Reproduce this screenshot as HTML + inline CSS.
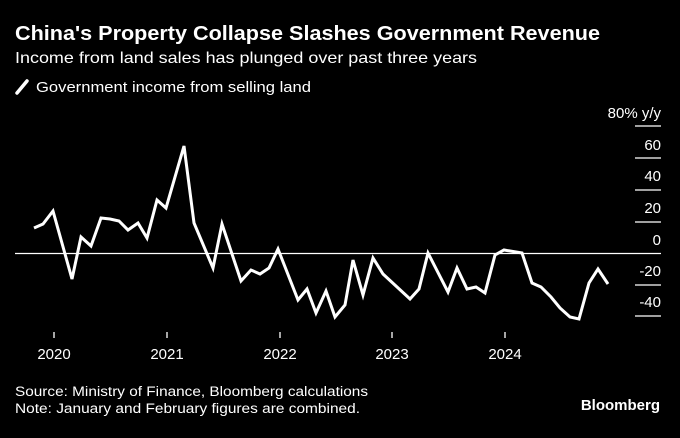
<!DOCTYPE html>
<html><head><meta charset="utf-8"><style>
body{margin:0;background:#000;width:680px;height:438px;overflow:hidden;font-family:"Liberation Sans",sans-serif;color:#fff}
</style></head><body>
<svg width="680" height="438" xmlns="http://www.w3.org/2000/svg" style="position:absolute;left:0;top:0">
<rect width="680" height="438" fill="#000"/>
<text x="15" y="40" font-size="20" font-weight="bold" fill="#fff" font-family="Liberation Sans" textLength="585" lengthAdjust="spacingAndGlyphs">China's Property Collapse Slashes Government Revenue</text>
<text x="15" y="63" font-size="16" fill="#fff" font-family="Liberation Sans" textLength="462" lengthAdjust="spacingAndGlyphs">Income from land sales has plunged over past three years</text>
<line x1="17" y1="93" x2="27" y2="81" stroke="#fff" stroke-width="3.5" stroke-linecap="round"/>
<text x="36" y="92" font-size="15" fill="#fff" font-family="Liberation Sans" textLength="275" lengthAdjust="spacingAndGlyphs">Government income from selling land</text>
<g stroke="#fff" stroke-width="1.3">
<line x1="635" y1="126" x2="661" y2="126"/><line x1="635" y1="158" x2="661" y2="158"/>
<line x1="635" y1="190" x2="661" y2="190"/><line x1="635" y1="222" x2="661" y2="222"/>
<line x1="15" y1="253.5" x2="661" y2="253.5"/>
<line x1="635" y1="285" x2="661" y2="285"/><line x1="635" y1="316" x2="661" y2="316"/>
<line x1="54" y1="332" x2="54" y2="338"/><line x1="167" y1="332" x2="167" y2="338"/>
<line x1="280" y1="332" x2="280" y2="338"/><line x1="392" y1="332" x2="392" y2="338"/>
<line x1="505" y1="332" x2="505" y2="338"/>
</g>
<g font-size="15" fill="#fff" text-anchor="end" font-family="Liberation Sans">
<text x="661" y="118">80% y/y</text><text x="661" y="150">60</text><text x="661" y="181">40</text>
<text x="661" y="213">20</text><text x="661" y="245">0</text><text x="661" y="276">-20</text><text x="661" y="307">-40</text>
</g>
<g font-size="15" fill="#fff" text-anchor="middle" font-family="Liberation Sans">
<text x="54" y="359">2020</text><text x="167" y="359">2021</text><text x="280" y="359">2022</text>
<text x="392" y="359">2023</text><text x="505" y="359">2024</text>
</g>
<polyline fill="none" stroke="#fff" stroke-width="3" stroke-linejoin="miter" points="34,228 43,224 53,211 72,279 81,237 91,246 101,218 110,219 119,221 128,230 138,223 147,238 157,200 166,208 184,146 194,223 213,268 222,224 241,281 251,270 260,274 269,268 278,249 298,300 307,289 316,313 326,291 335,317 345,305 353,260 363,295 373,258 383,274 410,299 419,289 428,253 448,292 457,268 467,289 476,287 485,293 495,255 504,250 522,253 532,283 541,287 551,297 560,308 570,317 579,319 589,283 598,269 608,284"/>
<text x="15" y="396" font-size="13.5" fill="#fff" font-family="Liberation Sans" textLength="353" lengthAdjust="spacingAndGlyphs">Source: Ministry of Finance, Bloomberg calculations</text>
<text x="15" y="413" font-size="13.5" fill="#fff" font-family="Liberation Sans" textLength="345" lengthAdjust="spacingAndGlyphs">Note: January and February figures are combined.</text>
<text x="660" y="410" font-size="15" font-weight="bold" fill="#fff" text-anchor="end" font-family="Liberation Sans">Bloomberg</text>
</svg>
</body></html>
